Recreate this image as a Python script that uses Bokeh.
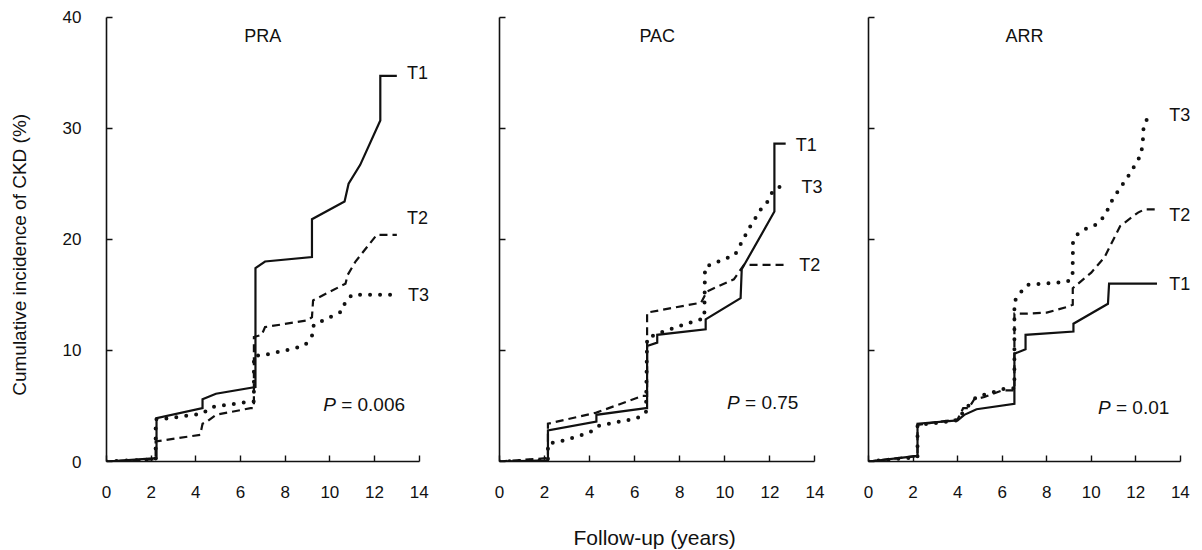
import math
from bokeh.plotting import figure
from bokeh.layouts import row
from bokeh.models import Range1d, FixedTicker, Title
from bokeh.core.properties import value
from bokeh.embed import file_html
from bokeh.resources import INLINE

FONT = "Liberation Sans"
INK = "#111111"

x_ticks = [0, 2, 4, 6, 8, 10, 12, 14]
y_ticks = [0, 10, 20, 30, 40]
panel_titles = ["PRA", "PAC", "ARR"]
series_names = ["T1", "T2", "T3"]
p_values = ["0.006", "0.75", "0.01"]
x_title = "Follow-up (years)"
y_title = "Cumulative incidence of CKD (%)"

# ---- PRA ----
pra_t1_x = [0, 2.24, 2.24, 4.3, 4.3, 4.9, 6.67, 6.67, 7.1, 9.2, 9.2, 10.66, 10.84, 11.36, 12.26, 12.26, 13.0]
pra_t1_y = [0, 0.3, 3.9, 4.8, 5.6, 6.1, 6.7, 17.4, 18.0, 18.4, 21.8, 23.4, 25.0, 26.7, 30.7, 34.7, 34.7]
pra_t2_x = [0, 2.2, 2.2, 4.2, 4.3, 4.5, 4.9, 6.45, 6.6, 6.6, 6.95, 7.1, 9.0, 9.2, 9.25, 10.7, 10.8, 11.15, 12.1, 13.0]
pra_t2_y = [0, 0.2, 1.8, 2.4, 3.4, 3.6, 4.2, 4.8, 4.8, 11.2, 11.4, 12.1, 12.7, 13.0, 14.5, 16.0, 16.8, 18.0, 20.4, 20.4]
pra_t3_x = [0, 2.2, 2.2, 2.4, 4.28, 4.72, 6.44, 6.6, 6.6, 7.1, 8.46, 8.9, 9.2, 9.28, 10.54, 10.7, 11.0, 12.93]
pra_t3_y = [0, 0.2, 3.8, 3.8, 4.3, 4.9, 5.4, 5.4, 9.5, 9.6, 10.2, 10.5, 11.3, 12.3, 13.5, 14.4, 15.0, 15.0]

# ---- PAC ----
pac_t1_x = [0, 2.15, 2.15, 4.3, 4.3, 6.5, 6.55, 6.55, 7.0, 7.0, 9.15, 9.15, 10.7, 10.75, 12.2, 12.2, 12.7]
pac_t1_y = [0, 0.1, 2.8, 3.6, 4.2, 4.8, 4.8, 10.4, 10.7, 11.4, 11.9, 12.8, 14.7, 17.3, 22.5, 28.6, 28.6]
pac_t2_x = [0, 2.1, 2.15, 2.15, 4.3, 6.35, 6.55, 6.55, 8.95, 9.2, 10.4, 10.85, 12.8]
pac_t2_y = [0, 0.3, 0.3, 3.4, 4.4, 5.9, 5.9, 13.4, 14.3, 15.3, 16.4, 17.7, 17.7]
pac_t3_x = [0, 2.15, 2.15, 2.7, 4.0, 4.4, 6.1, 6.5, 6.55, 7.28, 8.6, 9.09, 9.12, 9.6, 10.45, 11.08, 11.6, 11.9, 12.12, 12.4, 12.86]
pac_t3_y = [0, 0.1, 1.6, 1.8, 2.6, 3.2, 3.9, 4.4, 11.1, 11.7, 12.6, 12.9, 17.5, 17.9, 18.6, 21.0, 22.7, 23.4, 24.3, 24.7, 24.7]

# ---- ARR ----
arr_t1_x = [0, 2.2, 2.2, 4.0, 4.3, 4.85, 6.55, 6.55, 7.05, 7.05, 9.2, 9.2, 10.75, 10.8, 12.95]
arr_t1_y = [0, 0.5, 3.4, 3.7, 4.2, 4.7, 5.2, 9.7, 10.1, 11.4, 11.7, 12.4, 14.2, 16.0, 16.0]
arr_t2_x = [0, 2.2, 2.2, 4.0, 4.25, 4.5, 4.75, 5.2, 6.0, 6.55, 6.55, 7.0, 8.0, 8.9, 9.17, 9.17, 10.0, 10.6, 11.3, 12.1, 12.4, 13.05]
arr_t2_y = [0, 0.5, 3.3, 3.8, 4.8, 4.8, 5.6, 5.8, 6.4, 6.4, 13.3, 13.3, 13.4, 13.9, 14.1, 15.6, 17.0, 18.4, 21.2, 22.4, 22.7, 22.7]
arr_t3_x = [0, 2.2, 2.2, 2.7, 4.0, 4.3, 4.84, 6.2, 6.55, 6.55, 6.77, 7.15, 8.49, 8.94, 9.16, 9.18, 9.35, 9.8, 10.2, 10.6, 10.96, 11.26, 11.7, 11.97, 12.2, 12.3, 12.33, 12.35, 12.55]
arr_t3_y = [0, 0.4, 3.3, 3.4, 3.7, 4.6, 5.8, 6.6, 6.6, 14.4, 15.1, 15.9, 16.1, 16.2, 16.6, 19.7, 20.4, 21.0, 21.3, 22.1, 23.6, 24.5, 25.8, 26.7, 27.5, 28.4, 29.3, 30.2, 31.0]

panels = [
    dict(series=[(pra_t1_x, pra_t1_y), (pra_t2_x, pra_t2_y), (pra_t3_x, pra_t3_y)],
         labels=[(13.45, 35.0), (13.45, 21.9), (13.5, 15.0)], p_pos=(9.7, 5.1),
         left=54, fw=335, xend=15.0, ylabels=True, xlabel=False),
    dict(series=[(pac_t1_x, pac_t1_y), (pac_t2_x, pac_t2_y), (pac_t3_x, pac_t3_y)],
         labels=[(13.15, 28.5), (13.3, 17.7), (13.4, 24.7)], p_pos=(10.1, 5.3),
         left=58, fw=338, xend=15.0, ylabels=False, xlabel=True),
    dict(series=[(arr_t1_x, arr_t1_y), (arr_t2_x, arr_t2_y), (arr_t3_x, arr_t3_y)],
         labels=[(13.5, 16.0), (13.5, 22.2), (13.5, 31.2)], p_pos=(10.3, 4.9),
         left=31, fw=323, xend=14.5, ylabels=False, xlabel=False),
]

styles = [
    dict(line_dash="solid", line_width=2.2, line_cap="butt"),
    dict(line_dash="8 5", line_width=2.2, line_cap="butt"),
    dict(line_dash="0 10", line_width=4.0, line_cap="round"),
]

# narrow strip carrying the shared y-axis title
lab = figure(frame_width=52, frame_height=450, x_range=Range1d(0, 52), y_range=Range1d(0, 40.5),
             output_backend="svg", toolbar_location=None,
             x_axis_location=None, y_axis_location=None,
             min_border_left=0, min_border_right=0, min_border_top=11, min_border_bottom=85,
             background_fill_color="white", border_fill_color="white")
lab.outline_line_color = None
lab.grid.visible = False
lab.text(x=[18.5], y=[18.6], text=[y_title], angle=math.pi / 2, text_font=value(FONT),
         text_font_size="19px", text_color=INK, text_align="center", text_baseline="middle")

figs = [lab]
for i, pn in enumerate(panels):
    p = figure(frame_width=pn["fw"], frame_height=450,
               x_range=Range1d(0, pn["xend"]), y_range=Range1d(0, 40.5),
               output_backend="svg", toolbar_location=None,
               min_border_left=pn["left"], min_border_right=0,
               min_border_top=11, min_border_bottom=85,
               background_fill_color="white", border_fill_color="white")
    p.outline_line_color = None
    p.grid.visible = False

    for ax in (p.xaxis[0], p.yaxis[0]):
        ax.axis_line_color = INK
        ax.axis_line_width = 1.6
        ax.major_tick_line_color = INK
        ax.major_tick_line_width = 1.4
        ax.major_tick_in = 6
        ax.major_tick_out = 0
        ax.minor_tick_line_color = None
        ax.major_label_text_font = FONT
        ax.major_label_text_font_size = "17px"
        ax.major_label_text_color = INK

    p.xaxis.ticker = FixedTicker(ticks=x_ticks)
    p.xaxis.bounds = (0, 14)
    p.xaxis.major_label_standoff = 24
    p.yaxis.ticker = FixedTicker(ticks=y_ticks)
    p.yaxis.bounds = (0, 40)

    if pn["ylabels"]:
        p.yaxis.major_label_standoff = 25
    else:
        p.yaxis.major_label_overrides = {t: "" for t in y_ticks}
        p.yaxis.major_label_standoff = 0

    if pn["xlabel"]:
        t = Title(text=x_title, align="left", offset=74,
                  text_font=FONT, text_font_size="21px", text_font_style="normal",
                  text_color=INK, standoff=46)
        p.add_layout(t, "below")

    for (xs, ys), st in zip(pn["series"], styles):
        p.line(xs, ys, line_color=INK, line_join="miter", **st)

    for name, (lx, ly) in zip(series_names, pn["labels"]):
        p.text(x=[lx], y=[ly], text=[name], text_font=value(FONT), text_font_size="18px",
               text_color=INK, text_align="left", text_baseline="middle")

    p.text(x=[7.0], y=[38.3], text=[panel_titles[i]], text_font=value(FONT), text_font_size="18px",
           text_color=INK, text_align="center", text_baseline="middle")

    px, py = pn["p_pos"]
    p.text(x=[px], y=[py], text=["P"], text_font=value(FONT), text_font_size="19px",
           text_font_style="italic", text_color=INK, text_align="left", text_baseline="middle")
    p.text(x=[px], y=[py], text=["= " + p_values[i]], x_offset=18, text_font=value(FONT),
           text_font_size="19px", text_color=INK, text_align="left", text_baseline="middle")
    figs.append(p)

layout = row(*figs)
open("out.html", "w").write(file_html(layout, INLINE))
